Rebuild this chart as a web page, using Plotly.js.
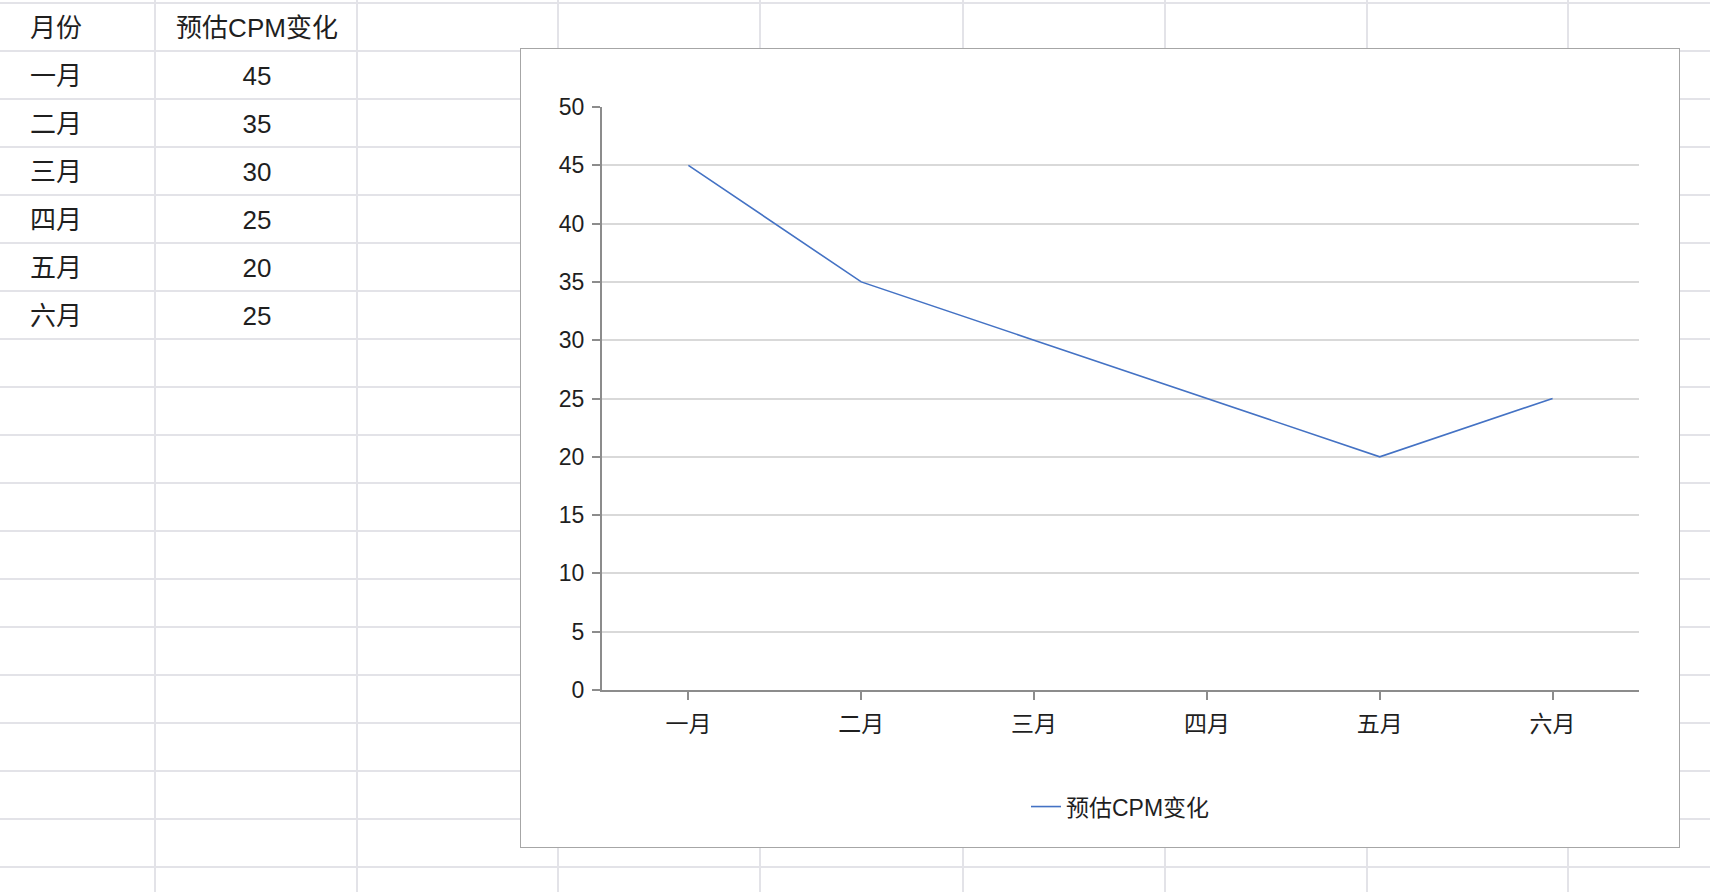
<!DOCTYPE html>
<html>
<head>
<meta charset="utf-8">
<script src="https://cdn.plot.ly/plotly-3.0.1.min.js"></script>
<style>
  html, body { margin: 0; padding: 0; background: #ffffff; width: 1710px; height: 892px; overflow: hidden; }
  #sheet { position: absolute; left: 0; top: 0; width: 1710px; height: 892px; }
  .hl { position: absolute; left: 0; width: 1710px; height: 2px; background: #e3e3e8; }
  .vl { position: absolute; top: 0; width: 2px; height: 892px; background: #e3e3e8; }
  .cell { position: absolute; height: 48px; line-height: 48px; font-family: "Liberation Sans", "Noto Sans CJK SC", sans-serif; font-size: 26px; color: #1f1f1f; white-space: nowrap; }
  #frame { position: absolute; left: 520px; top: 48px; width: 1160px; height: 800px; box-sizing: border-box; border: 1px solid #a6a6a6; background: #ffffff; }
  #chart { position: absolute; left: 0; top: 0; width: 1158px; height: 798px; }
</style>
</head>
<body>
<div id="sheet"></div>
<div id="frame"><div id="chart"></div></div>
<script>
// ---- data ----
const headerLabels = ['月份', '预估CPM变化'];
const months = ['一月', '二月', '三月', '四月', '五月', '六月'];
const cpmValues = [45, 35, 30, 25, 20, 25];
const seriesName = '预估CPM变化';

// ---- spreadsheet background ----
const sheet = document.getElementById('sheet');
const colEdges = [155, 357, 558, 760, 963, 1165, 1367, 1568];
for (const x of colEdges) {
  const d = document.createElement('div'); d.className = 'vl'; d.style.left = (x - 1) + 'px'; sheet.appendChild(d);
}
for (let y = 3; y < 892; y += 48) {
  const d = document.createElement('div'); d.className = 'hl'; d.style.top = (y - 1) + 'px'; sheet.appendChild(d);
}
function addCell(text, rowIdx, col) {
  const d = document.createElement('div');
  d.className = 'cell';
  d.textContent = text;
  d.style.top = (4 + rowIdx * 48) + 'px';
  if (col === 0) { d.style.left = '30px'; }
  else { d.style.left = '157px'; d.style.width = '200px'; d.style.textAlign = 'center'; }
  sheet.appendChild(d);
}
addCell(headerLabels[0], 0, 0);
addCell(headerLabels[1], 0, 1);
months.forEach((m, i) => { addCell(m, i + 1, 0); addCell(String(cpmValues[i]), i + 1, 1); });

// ---- chart ----
const fontFam = '"Liberation Sans", "Noto Sans CJK SC", sans-serif';
const trace = {
  type: 'scatter', mode: 'lines', name: seriesName,
  x: months, y: cpmValues,
  line: { color: '#4472C4', width: 1.6 },
  showlegend: true
};
const layout = {
  width: 1158, height: 798,
  margin: { l: 81, r: 40, t: 58, b: 157 },
  paper_bgcolor: '#ffffff', plot_bgcolor: '#ffffff',
  font: { family: fontFam, size: 23, color: '#1f1f1f' },
  xaxis: {
    type: 'category', range: [-0.5, 5.5],
    showgrid: false, zeroline: false,
    showline: true, linecolor: '#8c8c8c', linewidth: 2,
    ticks: 'outside', ticklen: 8, tickwidth: 2, tickcolor: '#8c8c8c',
    ticklabelstandoff: 4,
    tickfont: { family: fontFam, size: 23, color: '#1f1f1f' },
    fixedrange: true
  },
  yaxis: {
    range: [0, 50], dtick: 5, tick0: 0,
    showgrid: true, gridcolor: '#d9d9d9', gridwidth: 2,
    zeroline: false,
    showline: true, linecolor: '#8c8c8c', linewidth: 2,
    ticks: 'outside', ticklen: 8, tickwidth: 2, tickcolor: '#8c8c8c',
    ticklabelstandoff: 3,
    tickfont: { family: fontFam, size: 23, color: '#1f1f1f' },
    fixedrange: true
  },
  showlegend: true,
  legend: {
    orientation: 'h', x: 0.5, xanchor: 'center', y: -0.2, yanchor: 'middle',
    font: { family: fontFam, size: 23, color: '#1f1f1f' },
    bgcolor: 'rgba(0,0,0,0)'
  }
};
Plotly.newPlot('chart', [trace], layout, { displayModeBar: false, staticPlot: true });
</script>
</body>
</html>
